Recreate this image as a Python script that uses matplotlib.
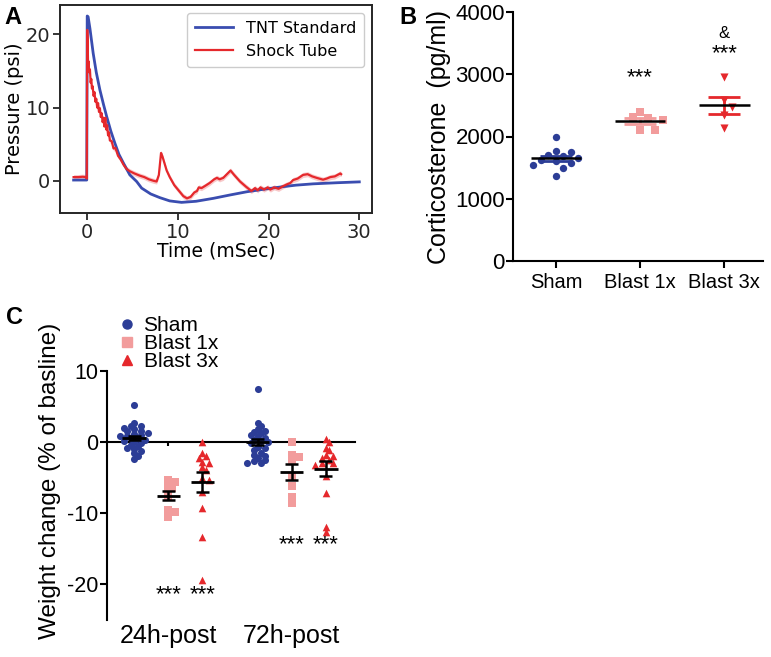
import numpy as np
import matplotlib.pyplot as plt
from matplotlib.lines import Line2D

# ---- panel A: pressure traces ----
tnt_t = [-1.5, -0.05, 0, 0.1, 0.3, 0.66, 1.0, 1.4, 1.8, 2.14, 2.6, 3.06, 3.5, 4.0, 4.7,
         5.45, 6.0, 7.0, 8.0, 9.1, 10.4, 12.0, 13.9, 15.7, 17.6, 19.5, 21.3, 23.0, 24.9,
         27.5, 30.0]
tnt_p = [0.1, 0.1, 22.5, 22.4, 20.8, 17.4, 14.8, 12.4, 10.4, 8.8, 6.8, 5.1, 3.6, 2.4, 0.8,
         -0.1, -1.0, -1.8, -2.3, -2.75, -2.95, -2.8, -2.4, -1.95, -1.5, -1.15, -0.85, -0.6,
         -0.42, -0.27, -0.15]

shock_t = [-1.5, -1.0, -0.5, -0.1, -0.05, 0, 0.05, 0.1, 0.15, 0.22, 0.3, 0.38, 0.45, 0.52,
           0.6, 0.7, 0.8, 0.9, 1.0, 1.1, 1.2, 1.3, 1.4, 1.5, 1.6, 1.7, 1.8, 1.9, 2.0, 2.1,
           2.2, 2.3, 2.4, 2.5, 2.7, 2.9, 3.1, 3.4, 3.7, 4.0, 4.35, 4.7, 5.2, 5.8, 6.3, 6.8,
           7.3, 7.65, 7.9, 8.14, 8.3, 8.76, 9.1, 9.6, 10.2, 10.6, 11.0, 11.4, 11.8, 12.1,
           12.3, 12.6, 13.0, 13.5, 14.0, 14.3, 14.6, 15.0, 15.4, 15.8, 16.2, 16.85, 17.5,
           18.1, 18.5, 18.8, 19.1, 19.5, 19.9, 20.2, 20.6, 21.1, 21.5, 22.0, 22.4, 22.7,
           23.2, 23.8, 24.3, 24.8, 25.3, 26.0, 26.4, 26.8, 27.3, 27.9, 28.0]
shock_p = [0.5, 0.5, 0.55, 0.5, 0.3, 20.6, 19.0, 15.5, 16.3, 14.8, 15.2, 13.4, 13.9, 12.6,
           12.9, 11.6, 12.1, 10.8, 11.2, 10.0, 10.6, 9.4, 9.9, 8.7, 9.2, 8.0, 8.6, 7.4, 8.6,
           7.0, 7.6, 6.2, 6.6, 5.5, 5.4, 4.4, 4.5, 3.4, 2.9, 2.2, 1.6, 1.3, 1.0, 0.7, 0.5,
           0.2, 0.0, -0.1, 0.8, 3.8, 3.3, 1.4, 0.5, -0.6, -1.5, -2.1, -2.4, -2.2, -1.6, -1.4,
           -0.9, -1.0, -0.7, -0.3, 0.2, 0.4, 0.2, 0.4, 0.9, 1.4, 0.8, -0.1, -0.8, -1.4, -1.0,
           -1.3, -0.9, -1.2, -0.9, -1.2, -0.9, -1.1, -0.8, -0.5, -0.3, 0.1, 0.3, 0.8, 0.9,
           0.6, 0.4, 0.15, 0.3, 0.5, 0.6, 1.0, 0.9]

# ---- panel B: corticosterone (pg/ml) ----
b_groups = ["Sham", "Blast 1x", "Blast 3x"]
b_sham = [2000, 1770, 1750, 1700, 1680, 1660, 1620, 1600, 1580, 1540, 1500, 1370]
b_blast1 = [2400, 2290, 2310, 2260, 2110, 2110]
b_blast3 = [2960, 2590, 2480, 2350, 2140]
b_star_y = [2950, 3330]
b_amp_y = 3650

# ---- panel C: weight change (% of baseline) ----
c_times = ["24h-post", "72h-post"]
c_sham_24 = [5.2, 2.6, 2.3, 2.2, 2.0, 1.8, 1.6, 1.5, 1.3, 1.1, 1.0, 0.9, 0.8, 0.6, 0.5, 0.3,
             0.2, 0.0, -0.2, -0.4, -0.6, -0.8, -1.0, -1.3, -1.6, -2.0, -2.4]
c_b1_24 = [-5.3, -5.6, -5.9, -6.4, -7.0, -7.8, -9.5, -9.8, -10.6]
c_b3_24 = [0.0, -1.5, -2.0, -2.3, -2.8, -3.0, -3.5, -4.0, -5.0, -5.3, -7.0, -9.3, -13.3, -19.4]
c_sham_72 = [7.4, 2.7, 2.2, 1.8, 1.6, 1.4, 1.2, 1.0, 0.8, 0.5, 0.3, 0.1, 0.0, -0.2, -0.7,
             -0.9, -1.2, -1.5, -1.8, -2.0, -2.3, -2.6, -2.7, -2.9, -3.0]
c_b1_72 = [0.0, -1.8, -2.1, -2.5, -4.8, -6.2, -7.8, -8.6]
c_b3_72 = [0.4, 0.0, -0.8, -1.2, -1.8, -2.0, -2.3, -2.6, -2.9, -3.0, -3.2, -4.8, -7.1, -12.0, -12.7]
c_marks_y = [-21.5, -14.4]

BLUE = "#2C3D96"
PINK = "#F29C9C"
RED = "#E5282C"
ARIAL = "Liberation Sans"


def swarm_x(vals, center, y_px, x_px, step, gap):
    # simple beeswarm: nearest free column for each point (pixel space)
    placed, xs = [], []
    cands = [0.0]
    for i in range(1, 40):
        cands += [i * step, -i * step]
    for v in vals:
        y = v * y_px
        for c in cands:
            if all((c - px) ** 2 + (y - py) ** 2 >= gap ** 2 for px, py in placed):
                break
        placed.append((c, y))
        xs.append(center + c / x_px)
    return np.array(xs)


def sem(v):
    v = np.asarray(v, float)
    return v.std(ddof=1) / np.sqrt(len(v))


fig = plt.figure(figsize=(7.71, 6.57), dpi=100)
W, H = 771, 657


def px_axes(l, t, r, b):
    return fig.add_axes([l / W, 1 - b / H, (r - l) / W, (b - t) / H])


# ================= A =================
axA = px_axes(60, 5, 372, 213)
sp = np.array(shock_p)
axA.fill_between(shock_t, sp - 0.35, sp + 0.35, color=RED, alpha=0.25, lw=0)
axA.plot(tnt_t, tnt_p, color="#3A4DB0", lw=2, label="TNT Standard")
axA.plot(shock_t, shock_p, color=RED, lw=1.6, label="Shock Tube")
axA.set_xlim(-3.0, 31.4)
axA.set_ylim(-4.4, 24)
axA.set_xticks([0, 10, 20, 30])
axA.set_yticks([0, 10, 20])
axA.tick_params(direction="out", length=5, width=1.3, labelsize=14, colors="#262626", pad=2)
for s in axA.spines.values():
    s.set_linewidth(1.4)
    s.set_color("#262626")
axA.set_xlabel("Time (mSec)", fontsize=13.5, labelpad=0)
axA.set_ylabel("Pressure (psi)", fontsize=14, labelpad=1)
axA.legend(loc="upper right", fontsize=11.5, handlelength=2.4, borderpad=0.5,
           labelspacing=0.5, framealpha=1, edgecolor="#cccccc")
fig.text(4 / W, 1 - 24 / H, "A", fontsize=17, fontweight="bold", family=ARIAL)

# ================= B =================
axB = px_axes(513.3, 12, 763, 261)
b_sets = [b_sham, b_blast1, b_blast3]
b_style = [(BLUE, "o", 28), (PINK, "s", 30), (RED, "v", 34)]
for i, (vals, (col, mk, sz)) in enumerate(zip(b_sets, b_style)):
    xs = swarm_x(vals, i, 249 / 4000, 84.3, 7.5, 8.5)
    m, e = np.mean(vals), sem(vals)
    axB.vlines(i, m - e, m + e, color=col, lw=2, zorder=2)
    axB.hlines([m - e, m + e], i - 0.19, i + 0.19, color=col, lw=2, zorder=2)
    axB.scatter(xs, vals, s=sz, marker=mk, color=col, lw=0, zorder=3)
    axB.hlines(m, i - 0.3, i + 0.3, color="black", lw=1.8, zorder=4)
axB.text(1, b_star_y[0], "***", ha="center", va="center", fontsize=16, family=ARIAL)
axB.text(2, b_star_y[1], "***", ha="center", va="center", fontsize=16, family=ARIAL)
axB.text(2, b_amp_y, "&", ha="center", va="center", fontsize=12, family=ARIAL)
axB.set_xlim(-0.506, 2.46)
axB.set_ylim(0, 4000)
axB.set_yticks([0, 1000, 2000, 3000, 4000])
axB.set_xticks([0, 1, 2])
axB.set_xticklabels(b_groups, family=ARIAL, fontsize=14.5)
for lab in axB.get_yticklabels():
    lab.set_family(ARIAL)
axB.tick_params(axis="y", labelsize=16, pad=1)
axB.tick_params(direction="out", length=5, width=1.5, colors="black")
axB.tick_params(axis="x", pad=4)
axB.spines["top"].set_visible(False)
axB.spines["right"].set_visible(False)
for s in ("left", "bottom"):
    axB.spines[s].set_linewidth(1.5)
axB.set_ylabel("Corticosterone  (pg/ml)", family=ARIAL, fontsize=18, labelpad=3)
fig.text(399 / W, 1 - 24 / H, "B", fontsize=17, fontweight="bold", family=ARIAL)

# ================= C =================
axC = px_axes(106.7, 370.7, 355, 620)
centers = [0, 3.61]
c_sets = [[c_sham_24, c_b1_24, c_b3_24], [c_sham_72, c_b1_72, c_b3_72]]
c_style = [(BLUE, "o", 26), (PINK, "s", 30), (RED, "^", 30)]
for g, cen in enumerate(centers):
    for j, vals in enumerate(c_sets[g]):
        col, mk, sz = c_style[j]
        x0 = cen + (j - 1)
        xs = swarm_x(vals, x0, 7.12, 34.2, 3.5, 4.2)
        axC.scatter(xs, vals, s=sz, marker=mk, color=col, lw=0, zorder=3)
        m, e = np.mean(vals), sem(vals)
        axC.vlines(x0, m - e, m + e, color="black", lw=1.8, zorder=4)
        axC.hlines([m - e, m + e], x0 - 0.19, x0 + 0.19, color="black", lw=1.8, zorder=4)
        axC.hlines(m, x0 - 0.34, x0 + 0.34, color="black", lw=2, zorder=4)
    axC.text(cen, c_marks_y[g], "***", ha="center", va="center", fontsize=16, family=ARIAL)
    axC.text(cen + 1, c_marks_y[g], "***", ha="center", va="center", fontsize=16, family=ARIAL)
    axC.text(cen, -0.015, c_times[g], transform=axC.get_xaxis_transform(), ha="center",
             va="top", fontsize=18, family=ARIAL)
axC.set_xlim(-1.80, 5.46)
axC.set_ylim(-25, 10)
axC.spines["top"].set_visible(False)
axC.spines["right"].set_visible(False)
axC.spines["bottom"].set_position(("data", 0))
axC.spines["bottom"].set_linewidth(1.5)
axC.spines["left"].set_linewidth(1.5)
axC.set_xticks(centers)
axC.set_xticklabels([])
axC.tick_params(axis="x", direction="out", length=3, width=1.5)
axC.set_yticks([10, 0, -10, -20])
axC.set_yticklabels(["10", "0", "-10", "-20"], family=ARIAL)
axC.tick_params(axis="y", direction="out", length=5, width=1.5, labelsize=15.5, pad=1)
axC.set_ylabel("Weight change (% of basline)", family=ARIAL, fontsize=17.5)
axC.yaxis.set_label_coords(-0.185, 0.56)

handles = [Line2D([], [], ls="none", marker=mk, color=col, markersize=6.5)
           for col, mk, sz in c_style]
fig.legend(handles, b_groups, loc="upper left", bbox_to_anchor=(106 / W, 1 - 306 / H),
           frameon=False, prop={"family": ARIAL, "size": 15}, handlelength=1.0,
           handletextpad=0.3, labelspacing=-0.05, borderpad=0)
fig.text(6 / W, 1 - 324 / H, "C", fontsize=17, fontweight="bold", family=ARIAL)

fig.savefig("out.png", dpi=100)
